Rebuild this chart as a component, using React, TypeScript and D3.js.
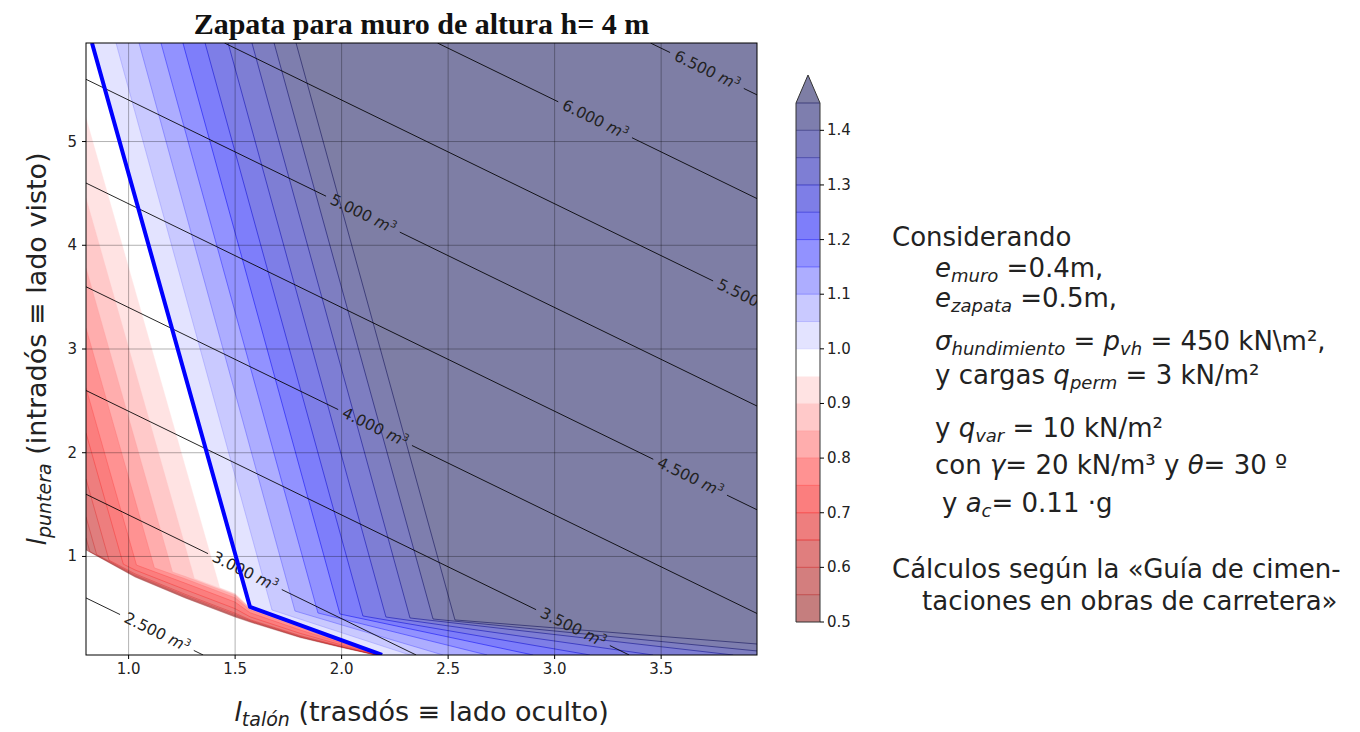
import React from 'react';
import * as d3 from 'd3';

const W = 1360;
const H = 732;

// axes domains (l_talon, l_puntera) in m
const X_DOMAIN = [0.8, 3.95];
const Y_DOMAIN = [0.05, 5.95];
const xTicks = [1.0, 1.5, 2.0, 2.5, 3.0, 3.5];
const yTicks = [1, 2, 3, 4, 5];

// filled contour levels of the safety factor
const levels = [0.5, 0.55, 0.6, 0.65, 0.7, 0.75, 0.8, 0.85, 0.9, 0.95, 1.0,
  1.05, 1.1, 1.15, 1.2, 1.25, 1.3, 1.35, 1.4, 1.45];
const cbTicks = [0.5, 0.6, 0.7, 0.8, 0.9, 1.0, 1.1, 1.2, 1.3, 1.4];

// boundary of each level, [l_talon, l_puntera]
const b050 = [[0.8, 1.063], [1.03, 0.802], [1.265, 0.6], [1.5, 0.416], [1.57, 0.367], [1.805, 0.218], [1.992, 0.126], [2.157, 0.05]];
const b055 = [[0.8, 1.178], [0.818, 1.048], [1.03, 0.812], [1.265, 0.611], [1.5, 0.428], [1.57, 0.375], [1.805, 0.224], [1.992, 0.13], [2.161, 0.05]];
const b060 = [[0.8, 1.381], [0.85, 1.019], [1.03, 0.821], [1.265, 0.623], [1.5, 0.44], [1.57, 0.382], [1.805, 0.229], [1.992, 0.133], [2.164, 0.05]];
const b065 = [[0.8, 1.747], [0.908, 0.964], [1.03, 0.833], [1.265, 0.636], [1.5, 0.453], [1.57, 0.39], [1.805, 0.237], [1.992, 0.138], [2.167, 0.05]];
const b070 = [[0.8, 2.191], [0.975, 0.926], [1.03, 0.87], [1.265, 0.681], [1.5, 0.497], [1.57, 0.418], [1.805, 0.259], [1.992, 0.151], [2.171, 0.05]];
const b075 = [[0.8, 2.625], [1.037, 0.917], [1.265, 0.743], [1.5, 0.56], [1.57, 0.458], [1.805, 0.292], [1.992, 0.171], [2.174, 0.05]];
const b080 = [[0.8, 3.203], [1.121, 0.89], [1.265, 0.785], [1.5, 0.602], [1.57, 0.484], [1.805, 0.313], [1.992, 0.183], [2.177, 0.05]];
const b085 = [[0.8, 3.782], [1.206, 0.85], [1.265, 0.808], [1.5, 0.625], [1.57, 0.498], [1.805, 0.326], [1.992, 0.191], [2.18, 0.05]];
const b090 = [[0.8, 4.457], [1.309, 0.787], [1.5, 0.638], [1.57, 0.507], [1.805, 0.333], [1.992, 0.195], [2.183, 0.05]];
const b095 = [[0.8, 5.238], [1.429, 0.701], [1.5, 0.646], [1.57, 0.511], [1.805, 0.336], [1.992, 0.197], [2.187, 0.05]];
const b100 = [[0.828, 5.95], [1.57, 0.513], [2.19, 0.05]];
const b105 = [[0.941, 5.95], [1.673, 0.484], [2.321, 0.05]];
const b110 = [[1.049, 5.95], [1.781, 0.474], [2.476, 0.05]];
const b115 = [[1.152, 5.95], [1.889, 0.455], [2.683, 0.05]];
const b120 = [[1.255, 5.95], [1.992, 0.445], [2.899, 0.05]];
const b125 = [[1.359, 5.95], [2.1, 0.426], [3.166, 0.05]];
const b130 = [[1.467, 5.95], [2.208, 0.416], [3.462, 0.05]];
const b135 = [[1.579, 5.95], [2.321, 0.407], [3.838, 0.05]];
const b140 = [[1.683, 5.95], [2.429, 0.397], [3.95, 0.089]];
const b145 = [[1.786, 5.95], [2.532, 0.388], [3.95, 0.156]];
const boundaries = [b050, b055, b060, b065, b070, b075, b080, b085, b090, b095,
  b100, b105, b110, b115, b120, b125, b130, b135, b140, b145];

// volume contour lines (m3): end points and where the label sits (l_talon)
const volumeLevels = [2.5, 3.0, 3.5, 4.0, 4.5, 5.0, 5.5, 6.0, 6.5];
const volumeEnds = [
  [[0.8, 0.6], [1.35, 0.05]],
  [[0.8, 1.6], [2.35, 0.05]],
  [[0.8, 2.6], [3.35, 0.05]],
  [[0.8, 3.6], [3.95, 0.45]],
  [[0.8, 4.6], [3.95, 1.45]],
  [[0.8, 5.6], [3.95, 2.45]],
  [[1.45, 5.95], [3.95, 3.45]],
  [[2.45, 5.95], [3.95, 4.45]],
  [[3.45, 5.95], [3.95, 5.45]],
];
const volumeLabelAt = [1.133, 1.546, 3.086, 2.157, 3.636, 2.1, 3.917, 3.19, 3.715];

const left = 86, right = 757, top = 43, bottom = 655;
const x = d3.scaleLinear().domain(X_DOMAIN).range([left, right]);
const y = d3.scaleLinear().domain(Y_DOMAIN).range([bottom, top]);

const cmap = d3.scaleLinear<string>()
  .domain([0.5, 0.7375, 0.975, 1.2125, 1.45])
  .range(['#800000', '#ff0000', '#ffffff', '#0000ff', '#00004d'])
  .interpolate(d3.interpolateRgb)
  .clamp(true);
const OVER = '#00004d';
const bandColor = (i: number) =>
  i < levels.length - 1 ? cmap((levels[i] + levels[i + 1]) / 2) : OVER;

const toPx = (p: number[]): [number, number] => [x(p[0]), y(p[1])];
const line = d3.line();

// region where the factor is >= level: boundary closed along the right/top edges
const regionPath = (pts: number[][]) => {
  const ring = [...pts];
  const last = pts[pts.length - 1];
  if (last[1] <= Y_DOMAIN[0] + 1e-9) ring.push([X_DOMAIN[1], Y_DOMAIN[0]]);
  ring.push([X_DOMAIN[1], Y_DOMAIN[1]]);
  if (pts[0][1] < Y_DOMAIN[1] - 1e-9) ring.push([X_DOMAIN[0], Y_DOMAIN[1]]);
  return line(ring.map(toPx)) + 'Z';
};

const SANS = 'DejaVu Sans, sans-serif';
const INK = '#222';

// colorbar
const cbLeft = 796, cbW = 24;
const cb = d3.scaleLinear().domain([0.5, 1.45]).range([622, 103]);

function VolumeLine({ i }: { i: number }) {
  const [p0, p1] = volumeEnds[i];
  const a = toPx(p0), b = toPx(p1);
  const la = volumeLabelAt[i];
  const t = (la - p0[0]) / (p1[0] - p0[0]);
  const cx = x(la), cy = y(p0[1] + t * (p1[1] - p0[1]));
  const len = Math.hypot(b[0] - a[0], b[1] - a[1]);
  const ux = (b[0] - a[0]) / len, uy = (b[1] - a[1]) / len;
  const gap = 41;
  const ang = (Math.atan2(uy, ux) * 180) / Math.PI;
  return (
    <g>
      <path d={line([a, [cx - ux * gap, cy - uy * gap]])!} stroke="#000" strokeOpacity={0.85} strokeWidth={1} fill="none" />
      <path d={line([[cx + ux * gap, cy + uy * gap], b])!} stroke="#000" strokeOpacity={0.85} strokeWidth={1} fill="none" />
      <text transform={`translate(${cx},${cy}) rotate(${ang})`} textAnchor="middle" dominantBaseline="central"
        fontFamily={SANS} fontSize={15.5} fill={INK}>
        {volumeLevels[i].toFixed(3)} <tspan fontStyle="italic">m</tspan>
        <tspan fontSize={10} dy={-5}>3</tspan>
      </text>
    </g>
  );
}

// italic symbol with italic subscript, then the rest of the line
function Sub({ base, sub, rest, size = 18 }: { base: string; sub: string; rest: string; size?: number }) {
  return (
    <>
      <tspan fontStyle="italic">{base}</tspan>
      <tspan fontStyle="italic" fontSize={size} dy={5}>{sub}</tspan>
      <tspan dy={-5}>{rest}</tspan>
    </>
  );
}

export default function App() {
  return (
    <div style={{ position: 'absolute', left: 0, top: 0 }}>
      <svg width={W} height={H} style={{ display: 'block', background: '#fff' }}>
        <defs>
          <clipPath id="plot">
            <rect x={left} y={top} width={right - left} height={bottom - top} />
          </clipPath>
        </defs>
        <rect x={0} y={0} width={W} height={H} fill="#fff" />

        <g clipPath="url(#plot)">
          <g opacity={0.5}>
            {boundaries.map((pts, i) => (
              <path key={i} d={regionPath(pts)} fill={bandColor(i)} />
            ))}
          </g>
          {boundaries.map((pts, i) => (
            <path key={'s' + i} d={line(pts.map(toPx))!} fill="none"
              stroke={bandColor(i)} strokeOpacity={i < 10 ? 0.35 : 0.5} strokeWidth={i < 10 ? 0.8 : 1} />
          ))}
          {xTicks.map(t => (
            <line key={'gx' + t} x1={x(t)} x2={x(t)} y1={top} y2={bottom} stroke="#000" strokeOpacity={0.3} strokeWidth={1} />
          ))}
          {yTicks.map(t => (
            <line key={'gy' + t} x1={left} x2={right} y1={y(t)} y2={y(t)} stroke="#000" strokeOpacity={0.3} strokeWidth={1} />
          ))}
          {volumeLevels.map((_, i) => <VolumeLine key={'v' + i} i={i} />)}
          <path d={line(b100.map(toPx))!} fill="none" stroke="#0000ff" strokeWidth={4} strokeLinejoin="round" />
        </g>

        <rect x={left} y={top} width={right - left} height={bottom - top} fill="none" stroke="#000" strokeWidth={1} />

        {xTicks.map(t => (
          <g key={'tx' + t}>
            <line x1={x(t)} x2={x(t)} y1={bottom} y2={bottom + 4} stroke="#000" />
            <text x={x(t)} y={bottom + 19} textAnchor="middle" fontFamily={SANS} fontSize={15} fill={INK}>{t.toFixed(1)}</text>
          </g>
        ))}
        {yTicks.map(t => (
          <g key={'ty' + t}>
            <line x1={left - 4} x2={left} y1={y(t)} y2={y(t)} stroke="#000" />
            <text x={left - 9} y={y(t)} textAnchor="end" dominantBaseline="central" fontFamily={SANS} fontSize={15} fill={INK}>{t}</text>
          </g>
        ))}

        <text x={(left + right) / 2} y={34} textAnchor="middle" fontFamily="Liberation Serif, serif" fontWeight="bold" fontSize={30} fill="#111">
          Zapata para muro de altura h= 4 m
        </text>

        <text x={(left + right) / 2} y={721} textAnchor="middle" fontFamily={SANS} fontSize={27} fill={INK}>
          <Sub base="l" sub="talón" rest=" (trasdós ≡ lado oculto)" size={19} />
        </text>
        <text transform={`translate(46,${(top + bottom) / 2}) rotate(-90)`} textAnchor="middle" fontFamily={SANS} fontSize={27} fill={INK}>
          <Sub base="l" sub="puntera" rest=" (intradós ≡ lado visto)" size={19} />
        </text>

        {/* colorbar */}
        <g>
          <g opacity={0.5}>
            {levels.slice(0, -1).map((l, i) => (
              <rect key={'cb' + i} x={cbLeft} width={cbW} y={cb(levels[i + 1])} height={cb(l) - cb(levels[i + 1])} fill={bandColor(i)} />
            ))}
            <path d={`M${cbLeft},${cb(1.45)}L${cbLeft + cbW / 2},${cb(1.45) - 28}L${cbLeft + cbW},${cb(1.45)}Z`} fill={OVER} />
          </g>
          {levels.slice(1).map((l, i) => (
            <line key={'cbl' + i} x1={cbLeft} x2={cbLeft + cbW} y1={cb(l)} y2={cb(l)} stroke={bandColor(i + 1)} strokeOpacity={0.5} />
          ))}
          <path d={`M${cbLeft},${cb(0.5)}L${cbLeft},${cb(1.45)}L${cbLeft + cbW / 2},${cb(1.45) - 28}L${cbLeft + cbW},${cb(1.45)}L${cbLeft + cbW},${cb(0.5)}Z`}
            fill="none" stroke="#333" strokeWidth={1} />
          {cbTicks.map(t => (
            <g key={'cbt' + t}>
              <line x1={cbLeft + cbW} x2={cbLeft + cbW + 4} y1={cb(t)} y2={cb(t)} stroke="#000" />
              <text x={cbLeft + cbW + 7} y={cb(t)} dominantBaseline="central" fontFamily={SANS} fontSize={15} fill={INK}>{t.toFixed(1)}</text>
            </g>
          ))}
        </g>

        {/* parameters */}
        <g fontFamily={SANS} fontSize={26} fill={INK}>
          <text x={892} y={246}>Considerando</text>
          <text x={935} y={277}><Sub base="e" sub="muro" rest=" =0.4m," /></text>
          <text x={935} y={307}><Sub base="e" sub="zapata" rest=" =0.5m," /></text>
          <text x={935} y={350}><Sub base="σ" sub="hundimiento" rest=" = " /><Sub base="p" sub="vh" rest=" = 450 kN\m²," /></text>
          <text x={935} y={384}>y cargas <Sub base="q" sub="perm" rest=" = 3 kN/m²" /></text>
          <text x={935} y={437}>y <Sub base="q" sub="var" rest=" = 10 kN/m²" /></text>
          <text x={935} y={474}>con <tspan fontStyle="italic">γ</tspan>= 20 kN/m³ y <tspan fontStyle="italic">θ</tspan>= 30 º</text>
          <text x={942} y={512}>y <Sub base="a" sub="c" rest="= 0.11 ·g" /></text>
          <text x={892} y={578}>Cálculos según la «Guía de cimen-</text>
          <text x={922} y={610}>taciones en obras de carretera»</text>
        </g>
      </svg>
    </div>
  );
}
